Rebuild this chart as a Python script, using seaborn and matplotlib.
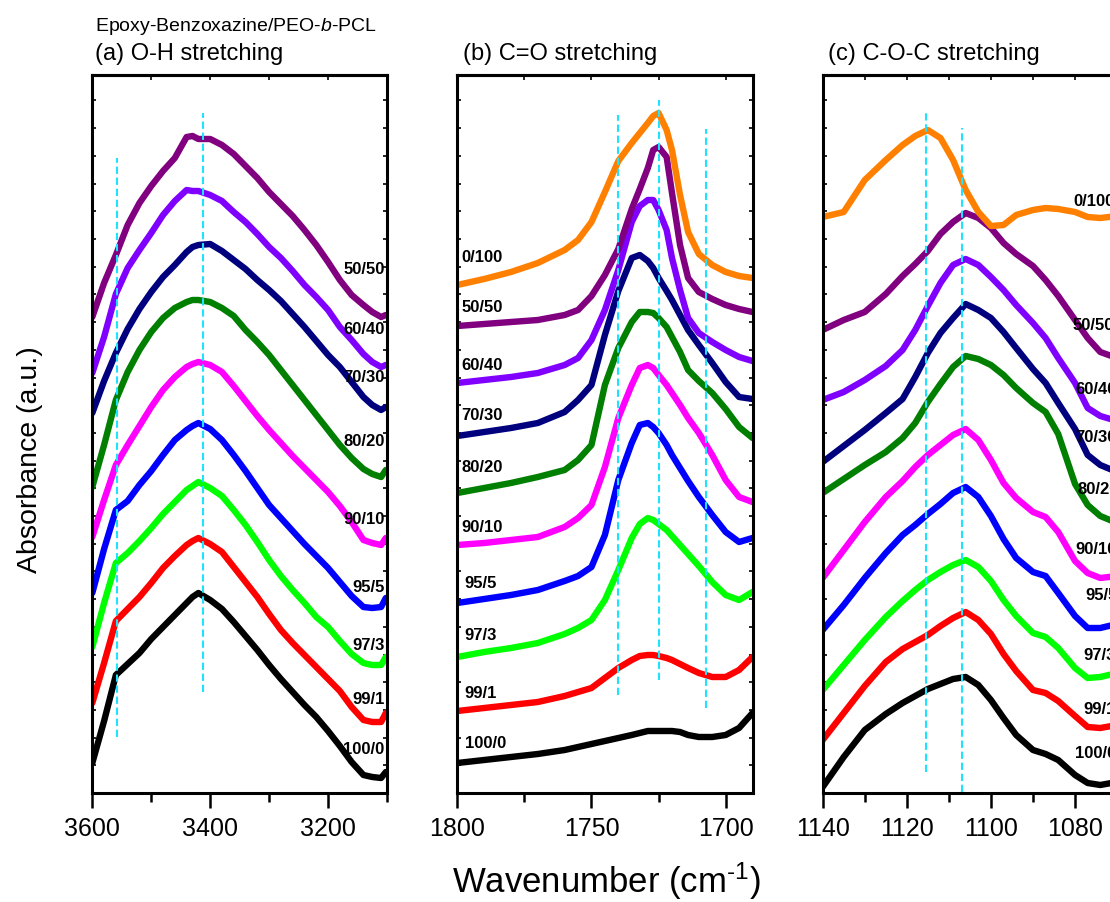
import matplotlib
matplotlib.use("Agg")
import matplotlib.pyplot as plt
from matplotlib.ticker import MultipleLocator, NullFormatter
import pandas as pd
import seaborn as sns

# sample order, bottom curve first
samples = ["100/0", "99/1", "97/3", "95/5", "90/10", "80/20", "70/30", "60/40", "50/50", "0/100"]
colors = {
    "100/0": "#000000", "99/1": "#FF0000", "97/3": "#00FF00", "95/5": "#0000FF",
    "90/10": "#FF00FF", "80/20": "#007F00", "70/30": "#00007F", "60/40": "#8000FF",
    "50/50": "#800080", "0/100": "#FF8000",
}

# ---- (a) O-H stretching ----
wn_oh = [3600, 3580, 3560, 3540, 3520, 3500, 3480, 3460, 3440, 3430, 3420, 3400, 3380, 3360,
         3340, 3320, 3300, 3280, 3260, 3240, 3220, 3200, 3180, 3160, 3140, 3125, 3110, 3102]
oh = {
    "100/0": [0.30, 0.72, 1.18, 1.29, 1.40, 1.54, 1.66, 1.78, 1.90, 1.96, 2.00, 1.93, 1.84, 1.71,
              1.57, 1.43, 1.28, 1.14, 1.01, 0.88, 0.76, 0.62, 0.47, 0.31, 0.18, 0.16, 0.15, 0.21],
    "99/1": [0.90, 1.30, 1.72, 1.84, 1.96, 2.10, 2.25, 2.37, 2.48, 2.52, 2.55, 2.49, 2.41, 2.26,
             2.11, 1.96, 1.79, 1.63, 1.50, 1.38, 1.26, 1.14, 1.02, 0.86, 0.73, 0.71, 0.71, 0.80],
    "97/3": [1.46, 1.90, 2.30, 2.40, 2.52, 2.65, 2.79, 2.91, 3.03, 3.07, 3.11, 3.05, 2.97, 2.83,
             2.68, 2.51, 2.33, 2.17, 2.03, 1.90, 1.76, 1.66, 1.52, 1.39, 1.30, 1.28, 1.28, 1.36],
    "95/5": [2.00, 2.44, 2.83, 2.92, 3.08, 3.22, 3.38, 3.53, 3.63, 3.67, 3.70, 3.64, 3.53, 3.38,
             3.22, 3.05, 2.88, 2.75, 2.62, 2.49, 2.37, 2.25, 2.11, 1.97, 1.86, 1.85, 1.86, 1.95],
    "90/10": [2.56, 2.93, 3.28, 3.48, 3.67, 3.86, 4.03, 4.16, 4.26, 4.29, 4.31, 4.28, 4.21, 4.07,
              3.92, 3.77, 3.63, 3.50, 3.37, 3.25, 3.13, 3.01, 2.87, 2.71, 2.53, 2.50, 2.48, 2.55],
    "80/20": [3.06, 3.48, 3.93, 4.21, 4.43, 4.61, 4.75, 4.85, 4.91, 4.93, 4.93, 4.91, 4.85, 4.77,
              4.63, 4.51, 4.38, 4.23, 4.08, 3.93, 3.78, 3.63, 3.48, 3.35, 3.24, 3.19, 3.16, 3.23],
    "70/30": [3.80, 4.12, 4.40, 4.64, 4.84, 5.01, 5.16, 5.28, 5.41, 5.46, 5.48, 5.49, 5.42, 5.33,
              5.24, 5.13, 5.03, 4.92, 4.79, 4.66, 4.52, 4.38, 4.26, 4.11, 3.96, 3.88, 3.83, 3.86],
    "60/40": [4.20, 4.56, 4.99, 5.25, 5.43, 5.60, 5.78, 5.92, 6.03, 6.02, 6.02, 5.98, 5.92, 5.81,
              5.71, 5.59, 5.46, 5.35, 5.22, 5.08, 4.96, 4.83, 4.66, 4.53, 4.39, 4.31, 4.26, 4.28],
    "50/50": [4.76, 5.10, 5.38, 5.68, 5.90, 6.07, 6.22, 6.35, 6.56, 6.57, 6.54, 6.54, 6.48, 6.39,
              6.27, 6.15, 6.01, 5.89, 5.77, 5.63, 5.48, 5.31, 5.13, 4.98, 4.88, 4.81, 4.76, 4.78],
}
oh_marks = [3558, 3412]
oh_mark_span = [(0.56, 6.35), (1.01, 6.80)]
oh_label_y = [0.44, 0.93, 1.48, 2.06, 2.73, 3.52, 4.16, 4.63, 5.24]

# ---- (b) C=O stretching ----
wn_co = [1800, 1790, 1780, 1770, 1760, 1755, 1750, 1745, 1740, 1735, 1732, 1729, 1727, 1725,
         1722, 1720, 1717, 1714, 1710, 1705, 1700, 1695, 1690]
co = {
    "100/0": [0.30, 0.33, 0.36, 0.39, 0.43, 0.46, 0.49, 0.52, 0.55, 0.58, 0.60, 0.62, 0.62, 0.62,
              0.62, 0.62, 0.61, 0.58, 0.56, 0.56, 0.58, 0.65, 0.80],
    "99/1": [0.82, 0.85, 0.88, 0.91, 0.97, 1.01, 1.05, 1.15, 1.25, 1.33, 1.37, 1.38, 1.38, 1.37,
             1.35, 1.33, 1.29, 1.25, 1.20, 1.16, 1.16, 1.23, 1.36],
    "97/3": [1.36, 1.41, 1.45, 1.50, 1.59, 1.65, 1.73, 1.93, 2.23, 2.55, 2.69, 2.75, 2.73, 2.69,
             2.63, 2.57, 2.48, 2.39, 2.27, 2.11, 1.98, 1.93, 2.01],
    "95/5": [1.90, 1.94, 1.98, 2.03, 2.12, 2.17, 2.26, 2.58, 3.13, 3.50, 3.68, 3.70, 3.66, 3.60,
             3.48, 3.38, 3.25, 3.12, 2.96, 2.78, 2.61, 2.51, 2.55],
    "90/10": [2.48, 2.50, 2.53, 2.56, 2.66, 2.75, 2.88, 3.26, 3.75, 4.08, 4.25, 4.28, 4.25, 4.18,
              4.08, 4.00, 3.88, 3.75, 3.60, 3.38, 3.13, 2.96, 2.91],
    "80/20": [3.00, 3.05, 3.10, 3.16, 3.23, 3.33, 3.48, 4.08, 4.45, 4.71, 4.81, 4.81, 4.80, 4.75,
              4.66, 4.56, 4.41, 4.23, 4.12, 4.00, 3.84, 3.66, 3.55],
    "70/30": [3.57, 3.61, 3.65, 3.70, 3.81, 3.93, 4.08, 4.58, 5.02, 5.35, 5.38, 5.32, 5.25, 5.15,
              5.02, 4.93, 4.78, 4.63, 4.48, 4.30, 4.11, 3.96, 3.94],
    "60/40": [4.10, 4.13, 4.16, 4.20, 4.28, 4.35, 4.53, 4.83, 5.23, 5.71, 5.87, 5.93, 5.93, 5.83,
              5.63, 5.35, 5.03, 4.75, 4.60, 4.51, 4.43, 4.36, 4.32],
    "50/50": [4.67, 4.69, 4.71, 4.73, 4.78, 4.83, 4.97, 5.18, 5.44, 5.84, 6.04, 6.25, 6.43, 6.46,
              6.36, 6.00, 5.48, 5.15, 5.01, 4.94, 4.88, 4.84, 4.81],
    "0/100": [5.08, 5.14, 5.21, 5.30, 5.43, 5.53, 5.71, 6.01, 6.32, 6.50, 6.60, 6.70, 6.77, 6.80,
              6.63, 6.43, 5.98, 5.61, 5.39, 5.28, 5.21, 5.17, 5.15],
}
co_marks = [1740, 1725, 1707.5]
co_mark_span = [(0.98, 6.78), (1.13, 6.93), (0.85, 6.64)]
co_label_y = [0.50, 0.99, 1.57, 2.10, 2.65, 3.25, 3.78, 4.28, 4.85, 5.35]

# ---- (c) C-O-C stretching ----
wn_coc = [1140, 1135, 1130, 1125, 1121, 1118, 1115, 1112, 1109, 1106, 1103, 1100, 1097, 1094,
          1090, 1087, 1084, 1080, 1077, 1074, 1070]
coc = {
    "100/0": [0.06, 0.36, 0.63, 0.79, 0.90, 0.97, 1.04, 1.09, 1.14, 1.16, 1.08, 0.93, 0.75, 0.58,
              0.43, 0.39, 0.33, 0.18, 0.10, 0.08, 0.11],
    "99/1": [0.53, 0.80, 1.07, 1.31, 1.44, 1.51, 1.58, 1.67, 1.75, 1.81, 1.73, 1.59, 1.39, 1.22,
             1.03, 1.00, 0.92, 0.77, 0.66, 0.65, 0.68],
    "97/3": [1.03, 1.28, 1.53, 1.76, 1.92, 2.03, 2.13, 2.21, 2.28, 2.33, 2.26, 2.12, 1.93, 1.77,
             1.60, 1.56, 1.45, 1.25, 1.15, 1.16, 1.20],
    "95/5": [1.63, 1.88, 2.15, 2.40, 2.58, 2.68, 2.79, 2.89, 3.00, 3.06, 2.96, 2.77, 2.54, 2.35,
             2.21, 2.17, 2.00, 1.77, 1.65, 1.65, 1.69],
    "90/10": [2.15, 2.43, 2.71, 2.96, 3.12, 3.26, 3.38, 3.48, 3.58, 3.64, 3.53, 3.33, 3.10, 2.95,
              2.81, 2.76, 2.61, 2.32, 2.20, 2.15, 2.17],
    "80/20": [3.00, 3.14, 3.28, 3.41, 3.55, 3.70, 3.91, 4.09, 4.26, 4.37, 4.34, 4.28, 4.18, 4.05,
              3.90, 3.81, 3.59, 3.09, 2.88, 2.77, 2.70],
    "70/30": [3.31, 3.47, 3.63, 3.80, 3.94, 4.16, 4.40, 4.60, 4.75, 4.89, 4.83, 4.75, 4.61, 4.45,
              4.24, 4.10, 3.90, 3.64, 3.38, 3.28, 3.21],
    "60/40": [3.93, 4.01, 4.13, 4.27, 4.43, 4.63, 4.87, 5.10, 5.28, 5.34, 5.28, 5.16, 5.03, 4.88,
              4.70, 4.55, 4.35, 4.10, 3.85, 3.77, 3.72],
    "50/50": [4.63, 4.73, 4.81, 4.99, 5.17, 5.29, 5.42, 5.59, 5.71, 5.80, 5.75, 5.65, 5.50, 5.39,
              5.27, 5.13, 4.97, 4.73, 4.55, 4.41, 4.35],
    "0/100": [5.76, 5.81, 6.13, 6.33, 6.48, 6.57, 6.63, 6.55, 6.33, 6.03, 5.81, 5.67, 5.68, 5.78,
              5.83, 5.85, 5.84, 5.81, 5.76, 5.75, 5.77],
}
coc_marks = [1115.4, 1106.9]
coc_mark_span = [(0.21, 6.83), (0.01, 6.65)]
coc_label_x = [1080, 1078, 1078, 1077.6, 1080, 1079.5, 1080, 1080, 1080.5, 1080.5]
coc_label_y = [0.39, 0.84, 1.37, 1.97, 2.44, 3.03, 3.55, 4.04, 4.67, 5.91]

sns.set_style("ticks")
plt.rcParams["font.family"] = ["Liberation Sans", "DejaVu Sans"]
plt.rcParams["mathtext.fontset"] = "custom"
plt.rcParams["mathtext.rm"] = "Liberation Sans"
plt.rcParams["mathtext.it"] = "Liberation Sans:italic"
for key in ("text.color", "axes.edgecolor", "axes.labelcolor", "xtick.color", "ytick.color"):
    plt.rcParams[key] = "black"

YMAX = 7.18
CYAN = "#1EE3FF"


def long_form(wn, spectra):
    rows = []
    for name, vals in spectra.items():
        for x, y in zip(wn, vals):
            rows.append({"wn": x, "A": y, "sample": name})
    return pd.DataFrame(rows)


def draw_panel(ax, wn, spectra, xlim, major, minor, marks, spans):
    order = [s for s in samples if s in spectra]
    df = long_form(wn, spectra)
    sns.lineplot(data=df, x="wn", y="A", hue="sample", hue_order=order, palette=colors,
                 estimator=None, sort=False, lw=4.6, legend=False, ax=ax,
                 solid_joinstyle="round", solid_capstyle="round")
    for m, (lo, hi) in zip(marks, spans):
        ax.vlines(m, lo, hi, colors=CYAN, linestyles=(0, (3.5, 1.8)), lw=1.5, zorder=5)

    ax.set_xlim(*xlim)
    ax.set_ylim(0, YMAX)
    ax.set_xlabel("")
    ax.set_ylabel("")
    ax.xaxis.set_major_locator(MultipleLocator(major))
    ax.xaxis.set_minor_locator(MultipleLocator(minor))
    ax.yaxis.set_major_locator(MultipleLocator(0.277))
    ax.yaxis.set_major_formatter(NullFormatter())
    for sp in ax.spines.values():
        sp.set_linewidth(2.2)
        sp.set_visible(True)
    ax.tick_params(axis="x", which="major", direction="out", length=11, width=1.8,
                   labelsize=18, pad=6, top=False)
    ax.tick_params(axis="x", which="minor", direction="out", length=6.5, width=1.8, top=False)
    ax.tick_params(axis="y", which="both", direction="in", length=3, width=1.2,
                   left=True, right=True, labelleft=False)
    top = ax.secondary_xaxis("top")
    top.xaxis.set_major_locator(MultipleLocator(minor))
    top.tick_params(direction="in", length=3.5, width=1.2, labeltop=False)
    top.spines["top"].set_linewidth(2.2)


fig = plt.figure(figsize=(11.1, 9.02), dpi=100)
W, H = 1110.0, 902.0
bottom = (H - 793) / H
height = (793 - 75) / H
ax_a = fig.add_axes([92.3 / W, bottom, 294.7 / W, height])
ax_b = fig.add_axes([457.3 / W, bottom, 295.2 / W, height])
ax_c = fig.add_axes([822.7 / W, bottom, 294.4 / W, height])

draw_panel(ax_a, wn_oh, oh, (3600, 3100), 200, 100, oh_marks, oh_mark_span)
draw_panel(ax_b, wn_co, co, (1800, 1690), 50, 25, co_marks, co_mark_span)
draw_panel(ax_c, wn_coc, coc, (1140, 1070), 20, 10, coc_marks, coc_mark_span)

lab_kw = dict(fontsize=12, fontweight="bold", va="center", color="black", zorder=6)
for name, y in zip([s for s in samples if s in oh], oh_label_y):
    ax_a.text(3104, y, name, ha="right", **lab_kw)
for name, y in zip(samples, co_label_y):
    x = 1797.2 if name in ("95/5", "97/3", "99/1", "100/0") else 1798.6
    ax_b.text(x, y, name, ha="left", **lab_kw)
for name, x, y in zip(samples, coc_label_x, coc_label_y):
    ax_c.text(x, y, name, ha="left", **lab_kw)

fig.text(95 / W, 1 - 31 / H, "Epoxy-Benzoxazine/PEO-$\\mathit{b}$-PCL", fontsize=14, va="baseline")
fig.text(95 / W, 1 - 60 / H, "(a) O-H stretching", fontsize=17, va="baseline")
fig.text(463 / W, 1 - 60 / H, "(b) C=O stretching", fontsize=17, va="baseline")
fig.text(828 / W, 1 - 60 / H, "(c) C-O-C stretching", fontsize=17, va="baseline")
fig.text(606 / W, 1 - 893 / H, "Wavenumber (cm$^{\\text{-1}}$)", fontsize=25,
         ha="center", va="baseline")
fig.text(30 / W, 1 - 460 / H, "Absorbance (a.u.)", fontsize=20.5, rotation=90,
         ha="center", va="center")

fig.savefig("out.png", dpi=100)
